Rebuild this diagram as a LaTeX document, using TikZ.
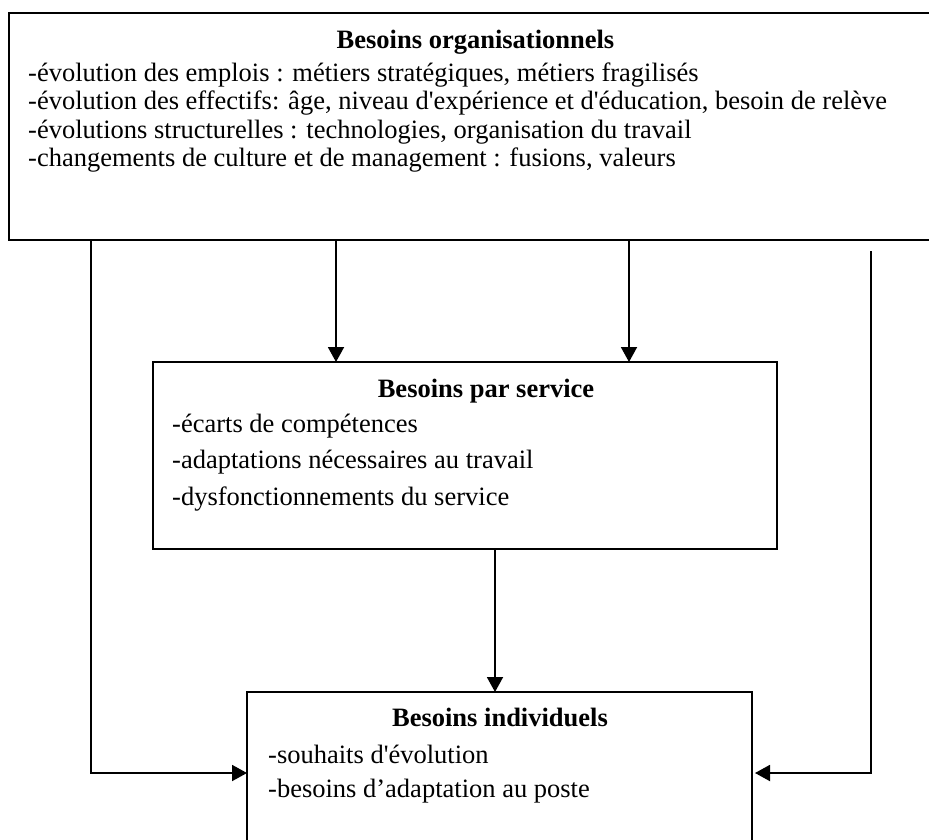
\documentclass[tikz,border=0pt]{standalone}
\usepackage{fontspec}
% plain family (no TeX ligature mapping) so that ' stays a straight quote
\newfontfamily\boxfont{Liberation Serif}
\usetikzlibrary{arrows.meta}
\begin{document}
\begin{tikzpicture}[x=1pt, y=-1pt,
  font=\boxfont\fontsize{26.5}{28}\selectfont,
  box/.style={draw, line width=1.9pt, rectangle, inner sep=0pt, outer sep=0pt, anchor=north west},
  line/.style={anchor=base west, inner sep=0pt},
  title/.style={anchor=base, inner sep=0pt, font=\boxfont\bfseries\fontsize{26.5}{28}\selectfont},
  arr/.style={line width=1.9pt, -{Triangle[length=15pt,width=16pt]}},
  wire/.style={line width=1.9pt}]
\clip (0,0) rectangle (929,839);
\fill[white] (0,0) rectangle (929,839);

% boxes
\node[box, minimum width=940pt, minimum height=227pt] (top) at (9,13) {};
\node[box, minimum width=624pt, minimum height=187pt] (mid) at (153,362) {};
\node[box, minimum width=505pt, minimum height=160pt] (bot) at (247,692) {};

% organisational needs
\node[title] (ttop) at (475.5,48) {Besoins organisationnels};
\node[line] (t1) at (28,81) {-évolution des emplois : métiers stratégiques, métiers fragilisés};
\node[line] (t2) at (28,109.5) {-évolution des effectifs: âge, niveau d'expérience et d'éducation, besoin de relève};
\node[line] (t3) at (28,138) {-évolutions structurelles : technologies, organisation du travail};
\node[line] (t4) at (28,166.5) {-changements de culture et de management : fusions, valeurs};

% needs per department
\node[title] (tmid) at (486,397) {Besoins par service};
\node[line] (m1) at (172,432) {-écarts de compétences};
\node[line] (m2) at (172,468.5) {-adaptations nécessaires au travail};
\node[line] (m3) at (172,505) {-dysfonctionnements du service};

% individual needs
\node[title] (tbot) at (500,726) {Besoins individuels};
\node[line] (b1) at (268,763) {-souhaits d'évolution};
\node[line] (b2) at (268,797) {-besoins d’adaptation au poste};

% connectors
\coordinate (a1) at (336,0);
\coordinate (a2) at (629,0);
\coordinate (a3) at (495,0);
\draw[arr] (a1 |- top.south) -- (a1 |- mid.north);
\draw[arr] (a2 |- top.south) -- (a2 |- mid.north);
\draw[arr] (a3 |- mid.south) -- (a3 |- bot.north);

\coordinate (lc) at (91,773);
\draw[arr] (lc |- top.south) -- (lc) -- (lc -| bot.west);

\coordinate (rs) at (871,251);
\coordinate (rc) at (871,773);
\draw[arr, shorten >=3pt] (rs) -- (rc) -- (rc -| bot.east);
\end{tikzpicture}
\end{document}
